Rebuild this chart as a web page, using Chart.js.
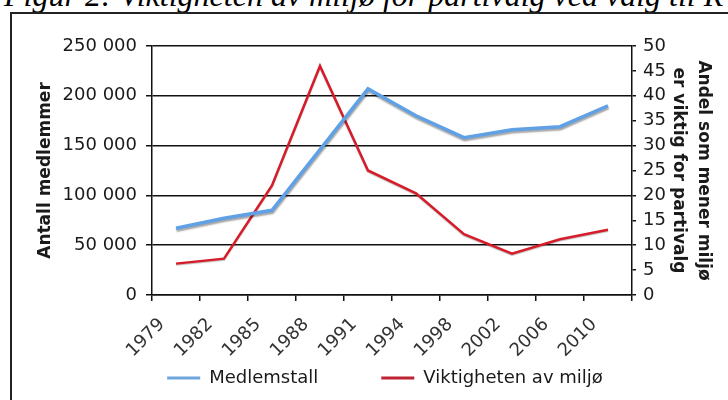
<!DOCTYPE html>
<html>
<head>
<meta charset="utf-8">
<script src="https://cdn.jsdelivr.net/npm/chart.js@4.4.1/dist/chart.umd.min.js"></script>
<style>
  html, body { margin: 0; padding: 0; background: #fff; overflow: hidden; }
  #wrap { position: relative; width: 728px; height: 400px; overflow: hidden; }
  #title { position: absolute; left: 4px; top: -21px; white-space: nowrap;
           font-family: "Liberation Serif", "Times New Roman", serif; font-style: italic;
           font-size: 32px; line-height: 32px; color: #000; }
  #frame { position: absolute; left: 10px; top: 12px; width: 800px; height: 500px;
           border: 2px solid #222; box-sizing: border-box; }
  #c { position: absolute; left: 0; top: 0; }
</style>
</head>
<body>
<div id="wrap">
  <div id="title">Figur 2: Viktigheten av miljø for partivalg ved valg til R</div>
  <div id="frame"></div>
  <canvas id="c" width="728" height="400"></canvas>
</div>
<script>
const years = ['1979', '1982', '1985', '1988', '1991', '1994', '1998', '2002', '2006', '2010'];
const medlemstall = [67000, 77000, 85000, 146000, 207000, 180000, 158000, 166000, 169000, 190000];
const viktighetMiljo = [6.3, 7.3, 22, 46, 25, 20.4, 12.2, 8.3, 11.2, 13.1];
const leftTitle = 'Antall medlemmer';
const rightTitle = ['Andel som mener miljø', 'er viktig for partivalg'];
const seriesNames = ['Medlemstall', 'Viktigheten av miljø'];

const FONT = '"DejaVu Sans", Verdana, sans-serif';
const INK = '#1a1a1a';

function fmtThousands(v) {
  return String(v).replace(/\B(?=(\d{3})+(?!\d))/g, ' ');
}

const shadowPlugin = {
  id: 'lineShadow',
  beforeDatasetDraw(chart, args) {
    const ctx = chart.ctx;
    ctx.save();
    if (args.index === 0) {
      ctx.shadowColor = 'rgba(0,0,0,0.35)';
      ctx.shadowBlur = 1.5;
      ctx.shadowOffsetX = 0.5;
      ctx.shadowOffsetY = 2;
    } else {
      ctx.shadowColor = 'rgba(0,0,0,0.25)';
      ctx.shadowBlur = 1;
      ctx.shadowOffsetX = 0;
      ctx.shadowOffsetY = 1;
    }
  },
  afterDatasetDraw(chart) {
    chart.ctx.restore();
  }
};

// place the legend row where the reference has it
const legendPlace = {
  id: 'legendPlace',
  afterLayout(chart) {
    const lg = chart.legend;
    if (!lg) return;
    lg.top = 306;
    lg.bottom = 400;
    lg.height = 94;
  }
};

new Chart(document.getElementById('c'), {
  type: 'line',
  data: {
    labels: years,
    datasets: [
      {
        label: seriesNames[0],
        data: medlemstall,
        yAxisID: 'y',
        borderColor: 'rgb(96,160,228)',
        backgroundColor: 'rgb(110,165,220)',
        borderWidth: 3.5,
        pointRadius: 0,
        tension: 0
      },
      {
        label: seriesNames[1],
        data: viktighetMiljo,
        yAxisID: 'y1',
        borderColor: 'rgb(214,28,40)',
        backgroundColor: 'rgb(190,35,50)',
        borderWidth: 2.5,
        pointRadius: 0,
        tension: 0
      }
    ]
  },
  options: {
    responsive: false,
    animation: false,
    layout: { padding: { left: 42, right: 0, top: 46, bottom: 3 } },
    plugins: {
      tooltip: { enabled: false },
      legend: {
        position: 'bottom',
        maxHeight: 38,
        labels: {
          font: { family: FONT, size: 18 },
          color: INK,
          boxWidth: 33,
          boxHeight: 3,
          padding: 63,
          generateLabels(chart) {
            const items = Chart.defaults.plugins.legend.labels.generateLabels(chart);
            items.forEach(it => { it.lineWidth = 0; });
            return items;
          }
        }
      }
    },
    scales: {
      x: {
        type: 'category',
        offset: true,
        afterFit(s) { s.height = 64; },
        grid: { display: true, drawOnChartArea: false, drawTicks: true, tickLength: 6, offset: true, color: '#111', lineWidth: 1.5 },
        border: { display: true, color: '#111', width: 1.5 },
        ticks: {
          font: { family: FONT, size: 18 },
          color: '#333',
          minRotation: 45,
          maxRotation: 45,
          padding: 13,
          labelOffset: -14,
          autoSkip: false
        }
      },
      y: {
        position: 'left',
        min: 0,
        max: 250000,
        afterFit(s) { s.width = 110; },
        grid: { color: '#111', lineWidth: 1.5, tickLength: 6, drawTicks: true },
        border: { display: true, color: '#111', width: 1.5 },
        ticks: {
          stepSize: 50000,
          font: { family: FONT, size: 18 },
          color: INK,
          padding: 9,
          callback: (v) => fmtThousands(v)
        },
        title: {
          display: true,
          text: leftTitle,
          font: { family: FONT, size: 17, weight: 'bold' },
          color: INK,
          padding: { top: -7, bottom: 0 }
        }
      },
      y1: {
        position: 'right',
        min: 0,
        max: 50,
        afterFit(s) { s.width = 96; },
        grid: { drawOnChartArea: false, color: '#111', lineWidth: 1.5, tickLength: 4, drawTicks: true },
        border: { display: true, color: '#111', width: 1.5 },
        ticks: {
          stepSize: 5,
          font: { family: FONT, size: 18 },
          color: INK,
          padding: 7
        },
        title: {
          display: true,
          text: rightTitle,
          font: { family: FONT, size: 17, weight: 'bold', lineHeight: 1.47 },
          color: INK,
          padding: { top: 12.5, bottom: 0 }
        }
      }
    }
  },
  plugins: [shadowPlugin, legendPlace]
});
</script>
</body>
</html>
